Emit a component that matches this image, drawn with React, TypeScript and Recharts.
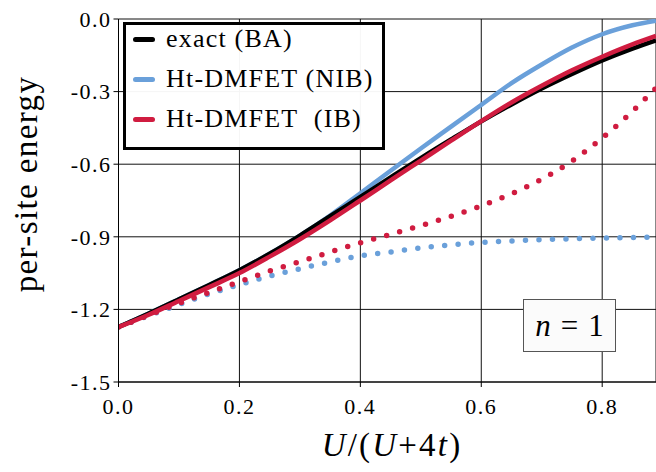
import React from 'react';
import { LineChart, Line, XAxis, YAxis, CartesianGrid, Label } from 'recharts';

// x = U/(U+4t)
const xs = [0, 0.05, 0.1, 0.15, 0.2, 0.25, 0.3, 0.35, 0.4, 0.45, 0.5, 0.55, 0.6, 0.65, 0.7, 0.75, 0.8, 0.85, 0.889];

const exactBA = [-1.273, -1.217, -1.158, -1.099, -1.038, -0.970, -0.895, -0.815, -0.735, -0.655, -0.575, -0.498, -0.423, -0.353, -0.287, -0.227, -0.171, -0.122, -0.088];
const nibSolid = [-1.273, -1.217, -1.158, -1.099, -1.038, -0.970, -0.895, -0.812, -0.720, -0.627, -0.535, -0.445, -0.355, -0.265, -0.188, -0.118, -0.063, -0.026, -0.007];
const ibSolid = [-1.273, -1.222, -1.165, -1.108, -1.050, -0.982, -0.910, -0.832, -0.750, -0.667, -0.585, -0.503, -0.422, -0.345, -0.276, -0.212, -0.156, -0.105, -0.070];
const nibDotted = [-1.273, -1.226, -1.180, -1.136, -1.098, -1.062, -1.032, -1.004, -0.979, -0.963, -0.946, -0.933, -0.923, -0.917, -0.912, -0.908, -0.905, -0.903, -0.902];
const ibDotted = [-1.273, -1.224, -1.175, -1.130, -1.086, -1.041, -1.003, -0.963, -0.925, -0.890, -0.854, -0.815, -0.772, -0.722, -0.662, -0.587, -0.492, -0.381, -0.285];

const xTicks = [0, 0.2, 0.4, 0.6, 0.8];
const yTicks = [-1.5, -1.2, -0.9, -0.6, -0.3, 0];

const BLUE = '#6aa0da';
const RED = '#d01c40';

const legendItems = [
  { label: 'exact (BA)', color: '#000000' },
  { label: 'Ht-DMFET (NIB)', color: BLUE },
  { label: 'Ht-DMFET\u00a0 (IB)', color: RED },
];

const data = xs.map((x, i) => ({
  x,
  exact: exactBA[i],
  nib: nibSolid[i],
  ib: ibSolid[i],
  nibDot: nibDotted[i],
  ibDot: ibDotted[i],
}));

const SERIF = "'Times New Roman', Times, 'Liberation Serif', serif";

const XTick = (props: any) => {
  const { x, y, payload } = props;
  return (
    <text x={x} y={y} dy="0.71em" textAnchor="middle" fontSize={22} letterSpacing={1.5} fontFamily={SERIF} fill="#000">
      {payload.value.toFixed(1)}
    </text>
  );
};

const YTick = (props: any) => {
  const { x, y, payload } = props;
  return (
    <text x={x} y={y} dy="0.355em" textAnchor="end" fontSize={22} letterSpacing={1.5} fontFamily={SERIF} fill="#000">
      {payload.value.toFixed(1)}
    </text>
  );
};

const YLabel = (props: any) => {
  const { viewBox } = props;
  const cx = viewBox.x + 36;
  const cy = 184;
  return (
    <text x={cx} y={cy} transform={`rotate(-90, ${cx}, ${cy})`} textAnchor="middle"
      fontSize={33} letterSpacing={1.4} fontFamily={SERIF} fill="#000">per-site energy</text>
  );
};

const XLabel = (props: any) => {
  const { viewBox } = props;
  return (
    <text x={392} y={viewBox.y + 74} textAnchor="middle" fontSize={33} letterSpacing={2.2} fontFamily={SERIF} fill="#000">
      <tspan fontStyle="italic">U</tspan>
      <tspan>/(</tspan>
      <tspan fontStyle="italic">U</tspan>
      <tspan>+4</tspan>
      <tspan fontStyle="italic">t</tspan>
      <tspan>)</tspan>
    </text>
  );
};

export default function App() {
  return (
    <div style={{ position: 'absolute', left: 0, top: 0, width: 656, height: 472, background: '#fff', fontFamily: SERIF }}>
      <LineChart width={656} height={472} data={data} margin={{ top: 19, right: 0, bottom: 0, left: 0.5 }}>
        <CartesianGrid stroke="#111" strokeWidth={1} />
        <XAxis
          type="number"
          dataKey="x"
          domain={[0, 0.889]}
          ticks={xTicks}
          allowDataOverflow
          height={90}
          tick={XTick}
          tickSize={5}
          tickMargin={11}
          stroke="#000"
        >
          <Label content={XLabel} />
        </XAxis>
        <YAxis
          type="number"
          domain={[-1.5, 0]}
          ticks={yTicks}
          allowDataOverflow
          width={118}
          tick={YTick}
          tickSize={5}
          tickMargin={2}
          stroke="#000"
        >
          <Label content={YLabel} />
        </YAxis>
        <Line dataKey="nibDot" type="monotone" stroke={BLUE} strokeWidth={5.5} strokeDasharray="0 13.5" strokeLinecap="round" dot={false} isAnimationActive={false} />
        <Line dataKey="ibDot" type="monotone" stroke={RED} strokeWidth={5.5} strokeDasharray="0 13.5" strokeLinecap="round" dot={false} isAnimationActive={false} />
        <Line dataKey="nib" type="monotone" stroke={BLUE} strokeWidth={4.5} dot={false} isAnimationActive={false} />
        <Line dataKey="exact" type="monotone" stroke="#000" strokeWidth={4.5} dot={false} isAnimationActive={false} />
        <Line dataKey="ib" type="monotone" stroke={RED} strokeWidth={4.5} dot={false} isAnimationActive={false} />
      </LineChart>

      {/* legend */}
      <div style={{
        position: 'absolute', left: 123, top: 22, width: 256, height: 122,
        border: '3px solid #000', background: 'rgba(255,255,255,0.96)',
      }}>
        {legendItems.map((item, i) => (
          <div key={item.label} style={{ position: 'absolute', left: 7, top: -4 + i * 40, height: 36, display: 'flex', alignItems: 'center' }}>
            <div style={{ width: 22, height: 5, borderRadius: 2.5, background: item.color }} />
            <span style={{ marginLeft: 11, fontSize: 26, letterSpacing: 1.2, color: '#000', whiteSpace: 'nowrap' }}>{item.label}</span>
          </div>
        ))}
      </div>

      {/* n = 1 annotation */}
      <div style={{
        position: 'absolute', left: 523, top: 299, width: 91, height: 51,
        border: '1px solid #555', background: '#fbfbfb',
        display: 'flex', alignItems: 'center', justifyContent: 'center',
        fontSize: 31, color: '#000', whiteSpace: 'nowrap',
      }}>
        <span style={{ fontStyle: 'italic' }}>n</span>
        <span style={{ margin: '0 10px' }}>=</span>
        <span>1</span>
      </div>
    </div>
  );
}
